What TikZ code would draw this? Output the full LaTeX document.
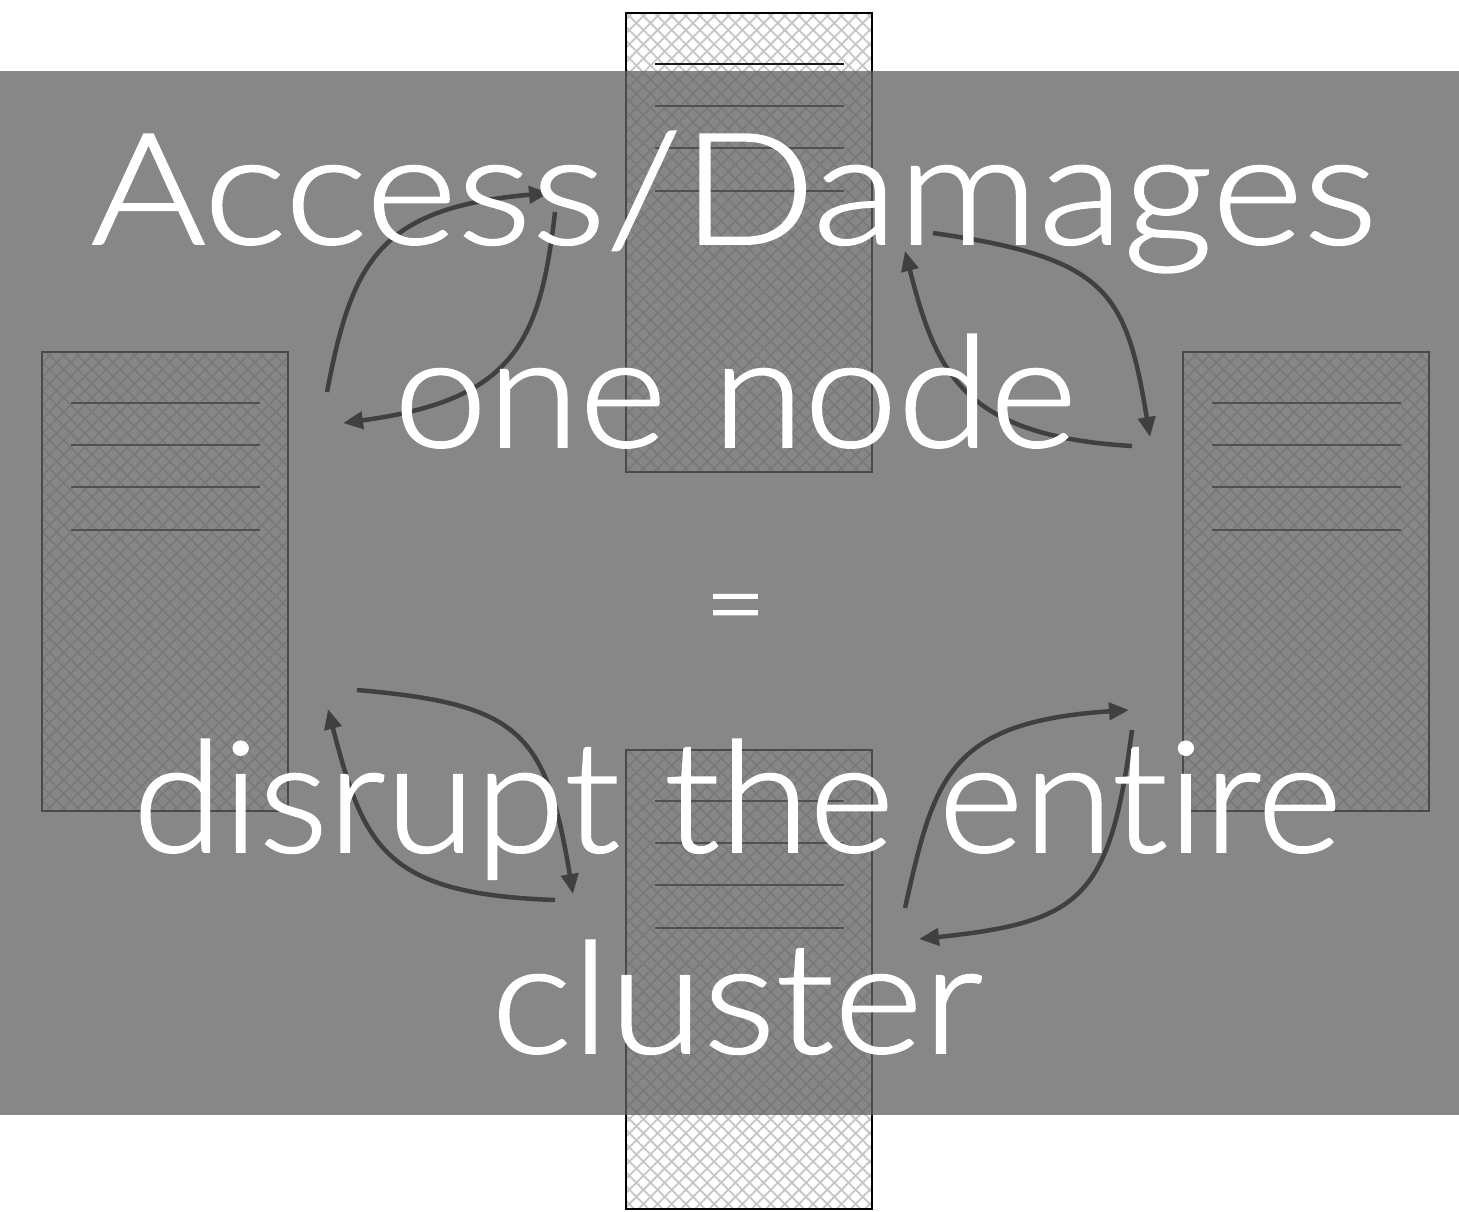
\documentclass[tikz,border=0pt]{standalone}
\usepackage{fontspec}
\newfontfamily\msgfont{Lato Light}[Ligatures=NoCommon,FakeBold=1.2]
\usetikzlibrary{patterns.meta,arrows.meta}
\definecolor{hatch}{RGB}{196,198,200}
\definecolor{veil}{RGB}{98,98,98}
\definecolor{linkcol}{RGB}{64,64,64}
\tikzset{
  rack/.style={rectangle, inner sep=0pt, outer sep=0pt,
    minimum width=246pt, minimum height=459pt, draw=black, line width=1.8pt,
    preaction={fill=white},
    preaction={pattern={Lines[angle=45,distance=10pt,line width=1.8pt]}, pattern color=hatch},
    preaction={pattern={Lines[angle=-45,distance=10pt,line width=1.8pt]}, pattern color=hatch}},
  rackline/.style={draw=black!90, line width=2.6pt},
  link/.style={draw=linkcol, line width=4.5pt, -{Triangle[length=20pt,width=17pt]}},
  msg/.style={text=white, anchor=base, inner sep=0pt, font=\msgfont\fontsize{155}{160}\selectfont}
}
\begin{document}
\begin{tikzpicture}[x=1pt,y=-1pt]
\useasboundingbox (0,0) rectangle (1459,1211);
\fill[white] (0,0) rectangle (1459,1211);

% four server racks
\node[rack] (top)    at (749,242.5) {};
\node[rack] (left)   at (165,581.5) {};
\node[rack] (right)  at (1306,581.5) {};
\node[rack] (bottom) at (749,979.5) {};
\foreach \n in {top,left,right,bottom}
  \foreach \dy in {51,93,135,178}
    \draw[rackline] ([xshift=29pt,yshift=-\dy pt]\n.north west) -- ([xshift=218pt,yshift=-\dy pt]\n.north west);

% translucent band over the middle
\fill[veil, fill opacity=0.76] (0,71) rectangle (1459,1115);

% link end points
\coordinate (a1s) at (327,392);  \coordinate (a1e) at (549,193);
\coordinate (a2s) at (555,212);  \coordinate (a2e) at (343,423);
\coordinate (a3s) at (933,233);  \coordinate (a3e) at (1150,437);
\coordinate (a4s) at (1132,446); \coordinate (a4e) at (905,251);
\coordinate (a5s) at (357,690);  \coordinate (a5e) at (573,894);
\coordinate (a6s) at (555,900);  \coordinate (a6e) at (328,709);
\coordinate (a7s) at (905,908);  \coordinate (a7e) at (1129,710);
\coordinate (a8s) at (1132,730); \coordinate (a8e) at (919,939);

% links between racks
\draw[link] (a1s) .. controls (352,262) and (378,208) .. (a1e);
\draw[link] (a2s) .. controls (540,345) and (512,400) .. (a2e);
\draw[link] (a3s) .. controls (1108,258) and (1126,292) .. (a3e);
\draw[link] (a4s) .. controls (962,436) and (936,372) .. (a4e);
\draw[link] (a5s) .. controls (520,704) and (546,732) .. (a5e);
\draw[link] (a6s) .. controls (385,894) and (364,848) .. (a6e);
\draw[link] (a7s) .. controls (934,780) and (946,722) .. (a7e);
\draw[link] (a8s) .. controls (1110,898) and (1082,922) .. (a8e);

% message
\node[msg] (l1) at (734,244) {\scalebox{1.13}[1]{Access/Damages}};
\node[msg] (l2) at (735.5,447) {\scalebox{1.08}[1]{one node}};
\node[msg, font=\msgfont\fontsize{105}{110}\selectfont] (l3) at (735.5,640) {=};
\node[msg] (l4) at (737,852) {\scalebox{1.05}[1]{disrupt the entire}};
\node[msg] (l5) at (737,1053) {\scalebox{1.10}[1]{cluster}};
\end{tikzpicture}
\end{document}
